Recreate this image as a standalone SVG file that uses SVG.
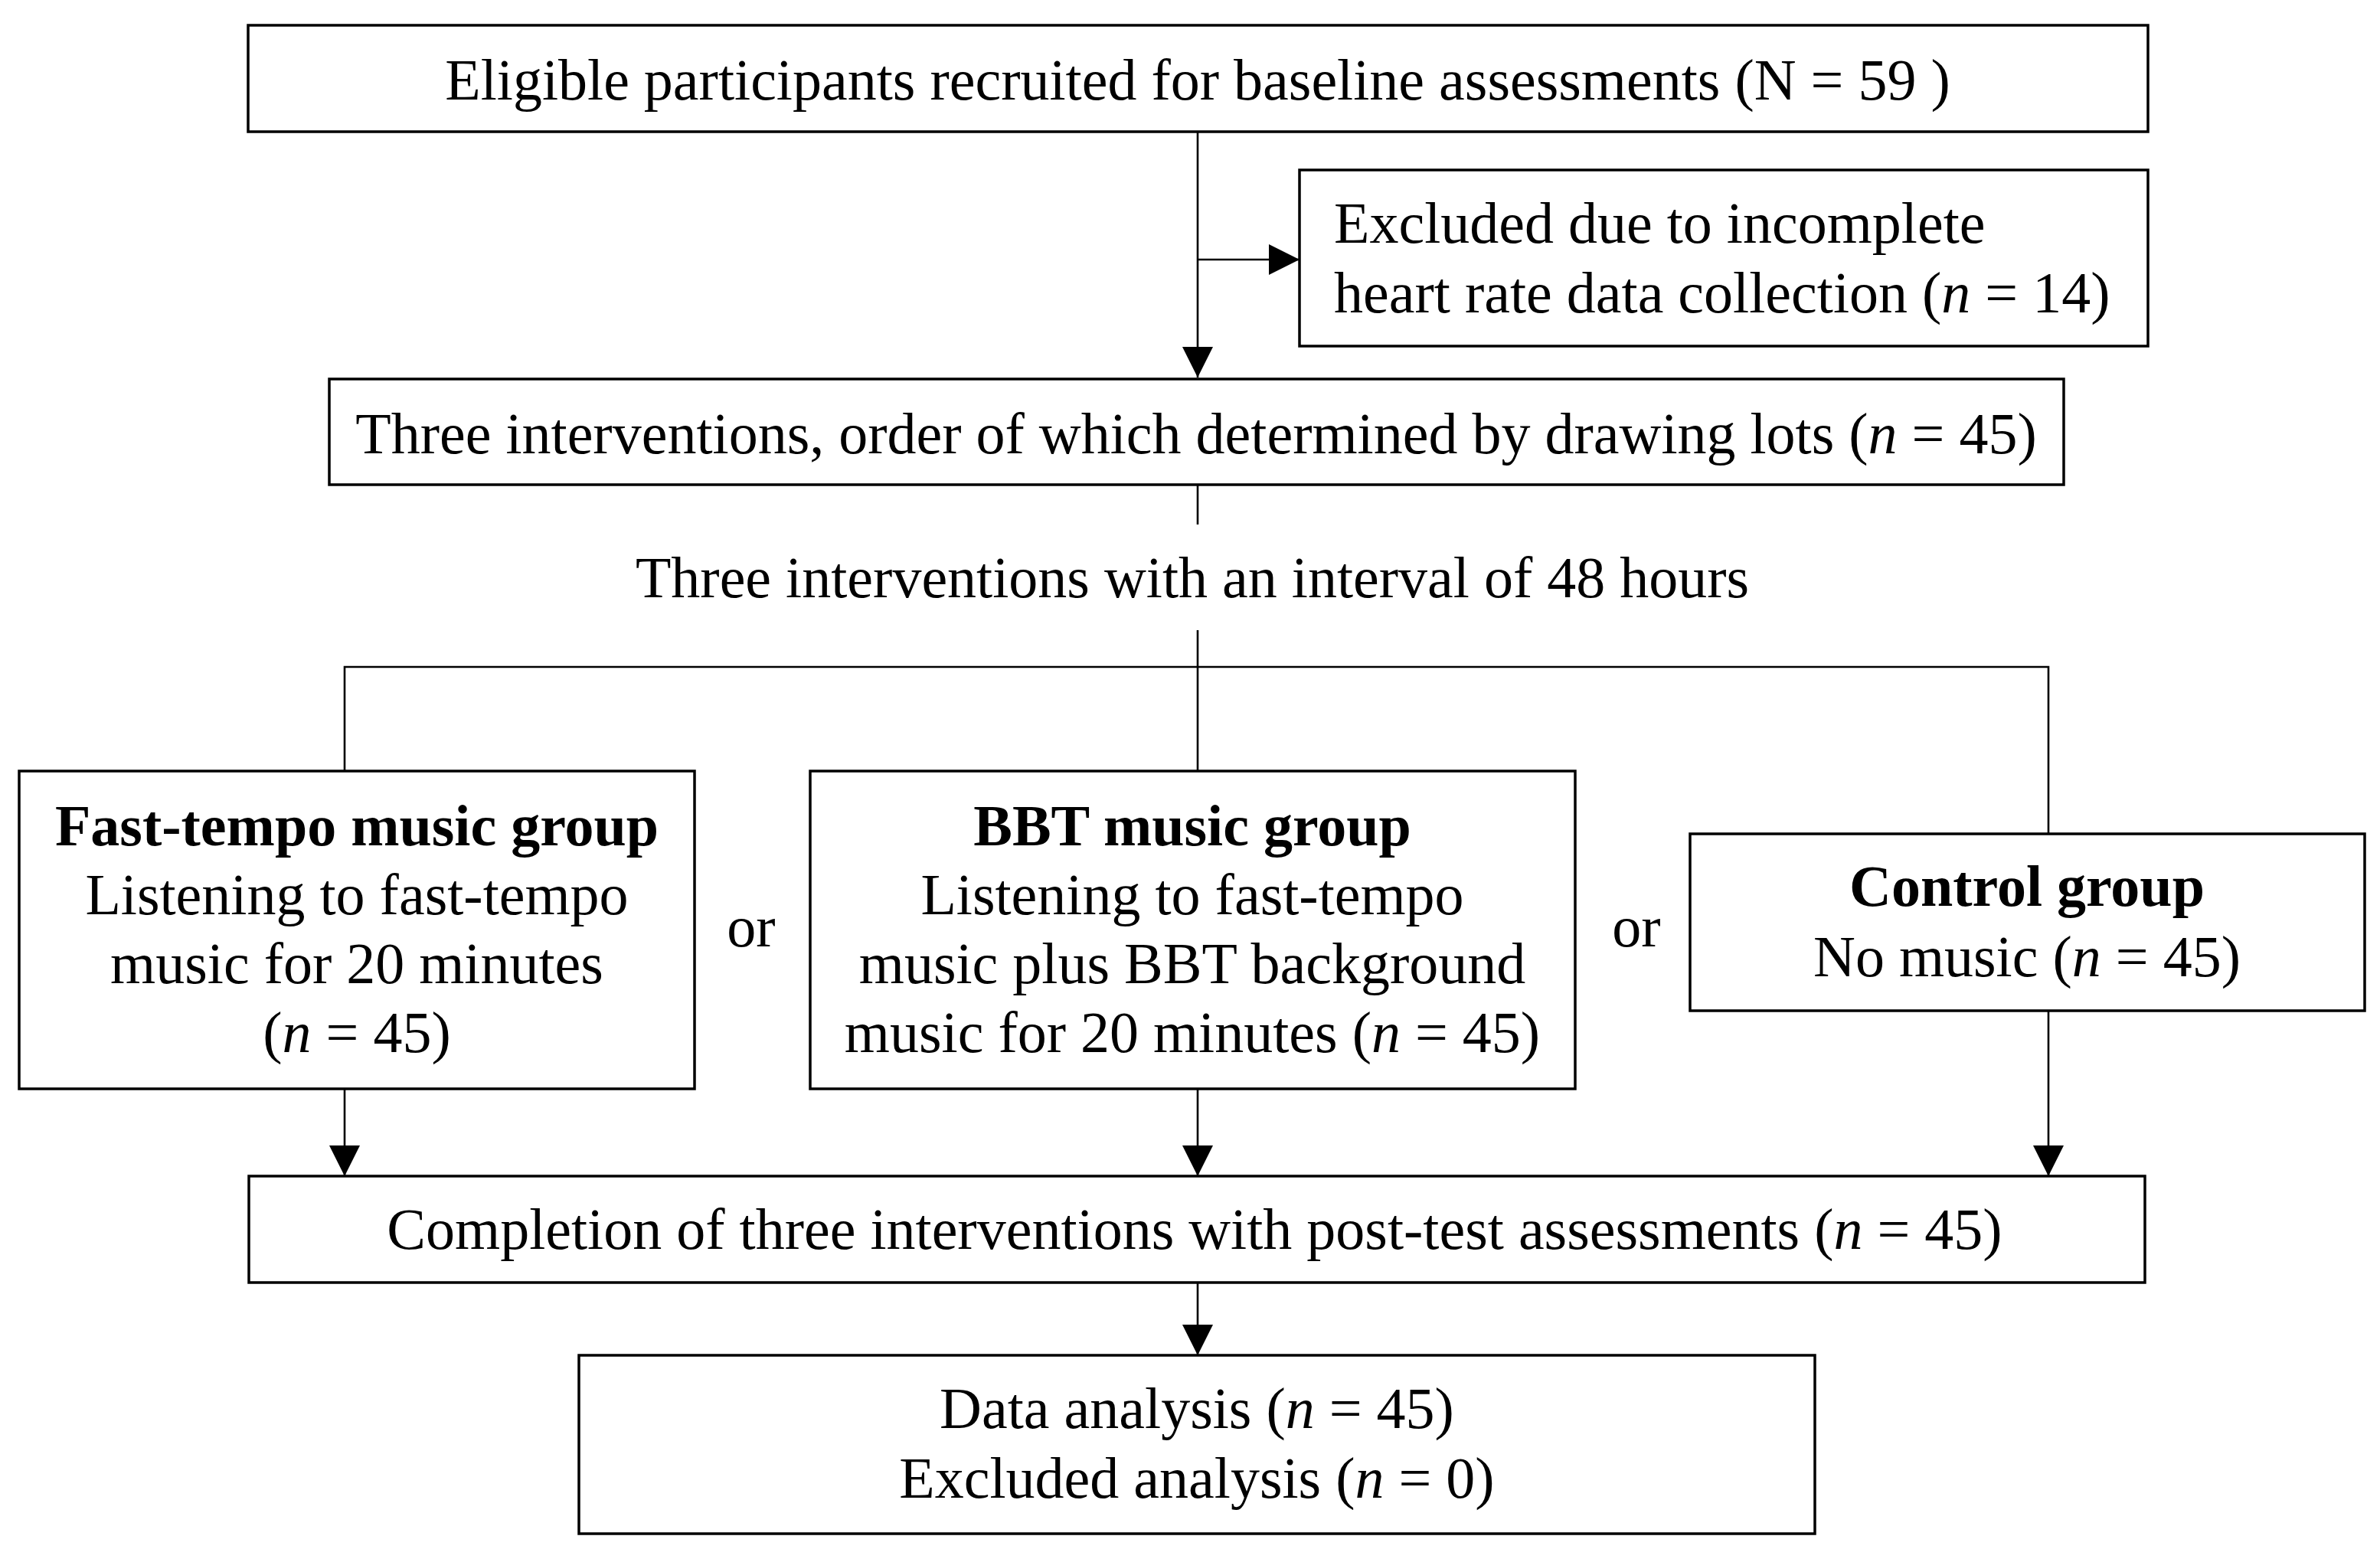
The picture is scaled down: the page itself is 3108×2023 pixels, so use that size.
<svg xmlns="http://www.w3.org/2000/svg" width="3108" height="2023" viewBox="0 0 3108 2023">
<defs>
<style>
.box{fill:#fff;stroke:#000;stroke-width:3.5}
.ln{fill:none;stroke:#000;stroke-width:2.6}
text{font-family:"Liberation Serif","Times New Roman",serif;font-size:76px;fill:#000}
.c{text-anchor:middle}
.b{font-weight:bold}
.i{font-style:italic}
</style>
<marker id="ah" markerUnits="userSpaceOnUse" markerWidth="40" markerHeight="40" viewBox="0 0 36 36" refX="36" refY="18" orient="auto">
<path d="M0,0 L36,18 L0,36 Z" fill="#000"/>
</marker>
</defs>
<rect width="3108" height="2023" fill="#fff"/>
<g id="connectors">
<line class="ln" x1="1564" y1="172" x2="1564" y2="493" marker-end="url(#ah)"/>
<line class="ln" x1="1564" y1="339" x2="1697" y2="339" marker-end="url(#ah)"/>
<line class="ln" x1="1564" y1="633" x2="1564" y2="685"/>
<line class="ln" x1="1564" y1="823" x2="1564" y2="1007"/>
<polyline class="ln" points="450,1007 450,871 2675,871 2675,1089"/>
<line class="ln" x1="450" y1="1422" x2="450" y2="1536" marker-end="url(#ah)"/>
<line class="ln" x1="1564" y1="1422" x2="1564" y2="1536" marker-end="url(#ah)"/>
<line class="ln" x1="2675" y1="1320" x2="2675" y2="1536" marker-end="url(#ah)"/>
<line class="ln" x1="1564" y1="1675" x2="1564" y2="1770" marker-end="url(#ah)"/>
</g>
<g id="n1">
<rect class="box" x="324" y="33" width="2481" height="139"/>
<text class="c" x="1564" y="130">Eligible participants recruited for baseline assessments (N = 59 )</text>
</g>
<g id="n2">
<rect class="box" x="1697" y="222" width="1108" height="230"/>
<text x="1742" y="317">Excluded due to incomplete</text>
<text x="1742" y="408">heart rate data collection (<tspan class="i">n</tspan> = 14)</text>
</g>
<g id="n3">
<rect class="box" x="430" y="495" width="2265" height="138"/>
<text class="c" x="1562" y="592">Three interventions, order of which determined by drawing lots (<tspan class="i">n</tspan> = 45)</text>
</g>
<g id="label-interval">
<text class="c" x="1557" y="780">Three interventions with an interval of 48 hours</text>
</g>
<g id="n4">
<rect class="box" x="25" y="1007" width="882" height="415"/>
<text class="c b" x="466" y="1104">Fast-tempo music group</text>
<text class="c" x="466" y="1194">Listening to fast-tempo</text>
<text class="c" x="466" y="1284">music for 20 minutes</text>
<text class="c" x="466" y="1374">(<tspan class="i">n</tspan> = 45)</text>
</g>
<g id="or1"><text class="c" x="981" y="1236">or</text></g>
<g id="n5">
<rect class="box" x="1058" y="1007" width="999" height="415"/>
<text class="c b" x="1557" y="1104">BBT music group</text>
<text class="c" x="1557" y="1194">Listening to fast-tempo</text>
<text class="c" x="1557" y="1284">music plus BBT background</text>
<text class="c" x="1557" y="1374">music for 20 minutes (<tspan class="i">n</tspan> = 45)</text>
</g>
<g id="or2"><text class="c" x="2137" y="1236">or</text></g>
<g id="n6">
<rect class="box" x="2207" y="1089" width="881" height="231"/>
<text class="c b" x="2647" y="1183">Control group</text>
<text class="c" x="2647" y="1275">No music (<tspan class="i">n</tspan> = 45)</text>
</g>
<g id="n7">
<rect class="box" x="325" y="1536" width="2476" height="139"/>
<text class="c" x="1560" y="1631">Completion of three interventions with post-test assessments (<tspan class="i">n</tspan> = 45)</text>
</g>
<g id="n8">
<rect class="box" x="756" y="1770" width="1614" height="233"/>
<text class="c" x="1563" y="1865">Data analysis (<tspan class="i">n</tspan> = 45)</text>
<text class="c" x="1563" y="1956">Excluded analysis (<tspan class="i">n</tspan> = 0)</text>
</g>
</svg>
